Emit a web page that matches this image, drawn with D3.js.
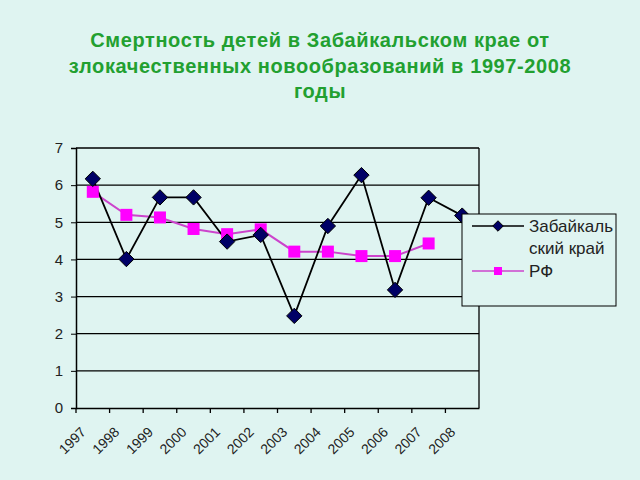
<!DOCTYPE html>
<html>
<head>
<meta charset="utf-8">
<script src="https://cdn.jsdelivr.net/npm/d3@7"></script>
<style>
  body { margin: 0; background: #dff4f1; }
  svg { display: block; font-family: Arial, "Liberation Sans", sans-serif; }
</style>
</head>
<body>
<svg id="chart" width="640" height="480"></svg>
<script>
// Chart data
const years = ["1997","1998","1999","2000","2001","2002","2003","2004","2005","2006","2007","2008"];
const zabValues = [6.17, 4.01, 5.67, 5.67, 4.48, 4.66, 2.48, 4.9, 6.27, 3.18, 5.66, 5.18];
const rfValues = [5.82, 5.2, 5.13, 4.82, 4.68, 4.81, 4.21, 4.21, 4.09, 4.09, 4.43];
const yTicks = [0, 1, 2, 3, 4, 5, 6, 7];
const titleLines = [
  "Смертность детей в Забайкальском крае от",
  "злокачественных новообразований в 1997-2008",
  "годы"
];
const seriesNames = ["Забайкаль|ский край", "РФ"];

const svg = d3.select("#chart");
const margin = { left: 76, right: 161, top: 148, bottom: 72 };
const width = 640, height = 480;

svg.append("rect").attr("width", width).attr("height", height).attr("fill", "#dff4f1");

// title
svg.append("text")
  .attr("text-anchor", "middle")
  .attr("fill", "#22a030")
  .attr("font-weight", "bold")
  .attr("font-size", 20)
  .attr("letter-spacing", 0.6)
  .selectAll("tspan")
  .data(titleLines)
  .join("tspan")
    .attr("x", 320)
    .attr("y", (d, i) => 47 + i * 25.5)
    .text(d => d);

// scales
const x = d3.scaleBand().domain(years).range([margin.left, width - margin.right]);
const y = d3.scaleLinear().domain([0, 7]).range([height - margin.bottom, margin.top]);

// grid
svg.append("g")
  .selectAll("line")
  .data(yTicks.filter(d => d > 0))
  .join("line")
    .attr("x1", margin.left).attr("x2", width - margin.right)
    .attr("y1", d => y(d)).attr("y2", d => y(d))
    .attr("stroke", "#000").attr("stroke-width", 1.3);

// right border
svg.append("line")
  .attr("x1", width - margin.right).attr("x2", width - margin.right)
  .attr("y1", y(7)).attr("y2", y(0))
  .attr("stroke", "#000").attr("stroke-width", 1.3);

// y axis
const yAxis = svg.append("g")
  .attr("transform", `translate(${margin.left},0)`)
  .call(d3.axisLeft(y).tickValues(yTicks).tickFormat(d3.format("d")).tickSize(5).tickPadding(8));
yAxis.selectAll("text").attr("font-size", 15).attr("fill", "#222").attr("font-family", "Arial, sans-serif");
yAxis.select(".domain").attr("stroke-width", 1.5);

// x axis
const xAxis = svg.append("g")
  .attr("transform", `translate(0,${y(0)})`)
  .call(d3.axisBottom(x).tickSize(0).tickFormat(""));
xAxis.select(".domain").attr("stroke-width", 1.5);
xAxis.selectAll(".tick").remove();

// x tick marks at band edges
svg.append("g")
  .selectAll("line")
  .data(years)
  .join("line")
    .attr("x1", d => x(d)).attr("x2", d => x(d))
    .attr("y1", y(0)).attr("y2", y(0) + 5)
    .attr("stroke", "#000").attr("stroke-width", 1.3);

// x labels rotated
svg.append("g")
  .selectAll("text")
  .data(years)
  .join("text")
    .attr("transform", d => `translate(${x(d) + x.bandwidth() / 2 - 6},${y(0) + 25}) rotate(-45)`)
    .attr("text-anchor", "end")
    .attr("font-size", 14)
    .attr("fill", "#222")
    .text(d => d);

const cx = (d, i) => x(years[i]) + x.bandwidth() / 2;

// RF line
const rfLine = d3.line().x((d, i) => cx(d, i)).y(d => y(d));
svg.append("path")
  .datum(rfValues)
  .attr("fill", "none")
  .attr("stroke", "#cc44cc")
  .attr("stroke-width", 2)
  .attr("d", rfLine);

// Zab line
svg.append("path")
  .datum(zabValues)
  .attr("fill", "none")
  .attr("stroke", "#000")
  .attr("stroke-width", 1.8)
  .attr("d", rfLine);

// RF markers
svg.append("g")
  .selectAll("rect")
  .data(rfValues)
  .join("rect")
    .attr("x", (d, i) => cx(d, i) - 6)
    .attr("y", d => y(d) - 6)
    .attr("width", 12).attr("height", 12)
    .attr("fill", "#ff00ff");

// Zab markers
const diamond = d3.symbol().type(d3.symbolDiamond2).size(150);
svg.append("g")
  .selectAll("path")
  .data(zabValues)
  .join("path")
    .attr("transform", (d, i) => `translate(${cx(d, i)},${y(d)})`)
    .attr("d", diamond)
    .attr("fill", "#000066")
    .attr("stroke", "#000")
    .attr("stroke-width", 1);

// legend
const lg = svg.append("g").attr("transform", "translate(462,214)");
lg.append("rect")
  .attr("width", 154).attr("height", 92)
  .attr("fill", "#dff4f1").attr("stroke", "#000").attr("stroke-width", 1);

lg.append("line").attr("x1", 10).attr("x2", 62).attr("y1", 12).attr("y2", 12)
  .attr("stroke", "#000").attr("stroke-width", 1.5);
lg.append("path").attr("transform", "translate(36,12)")
  .attr("d", d3.symbol().type(d3.symbolDiamond2).size(70))
  .attr("fill", "#000066").attr("stroke", "#000");

lg.append("line").attr("x1", 10).attr("x2", 62).attr("y1", 57).attr("y2", 57)
  .attr("stroke", "#cc44cc").attr("stroke-width", 1.5);
lg.append("rect").attr("x", 32).attr("y", 53).attr("width", 8).attr("height", 8)
  .attr("fill", "#ff00ff");

const legText = lg.append("g")
  .attr("font-size", 17).attr("fill", "#222");
legText.append("text").attr("x", 67).attr("y", 18).text(seriesNames[0].split("|")[0]);
legText.append("text").attr("x", 67).attr("y", 40).text(seriesNames[0].split("|")[1]);
legText.append("text").attr("x", 67).attr("y", 63).text(seriesNames[1]);
</script>
</body>
</html>
